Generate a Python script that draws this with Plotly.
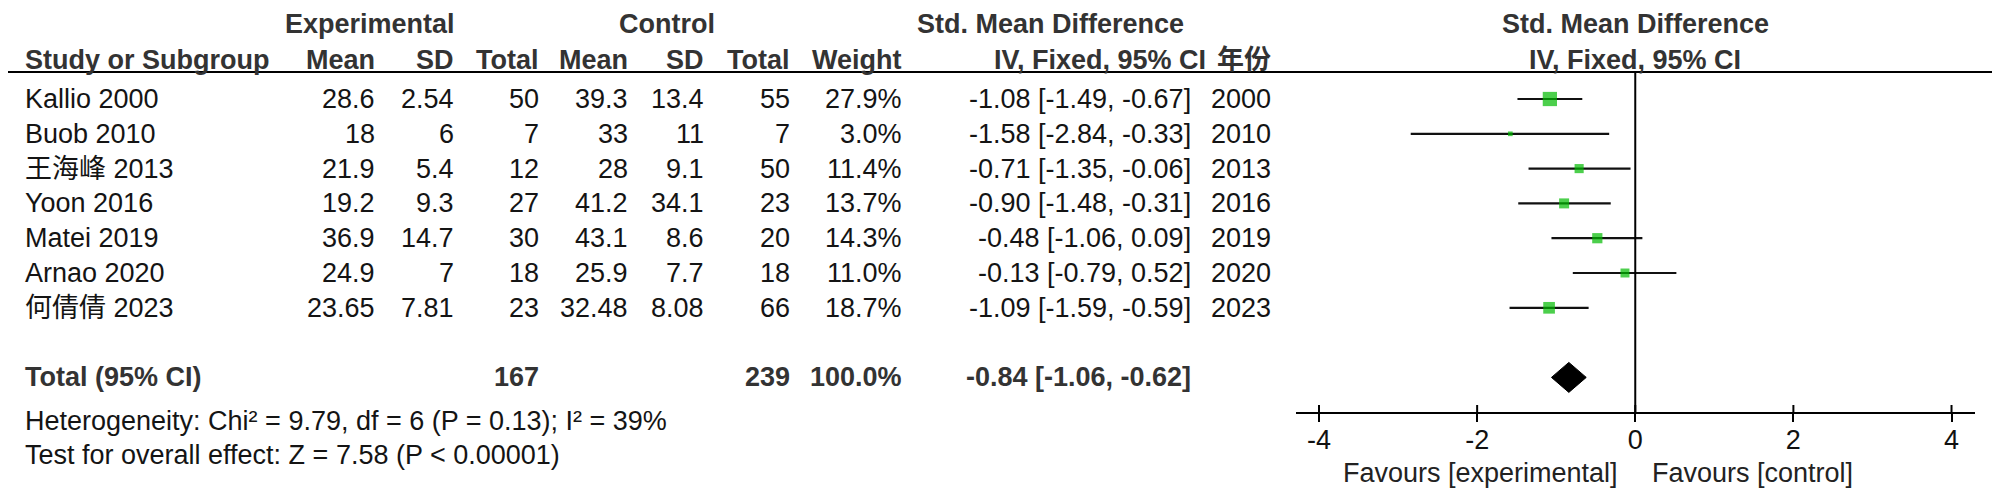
import plotly.graph_objects as go

# ---------------- data ----------------
studies = ["Kallio 2000", "Buob 2010", "王海峰 2013", "Yoon 2016", "Matei 2019", "Arnao 2020", "何倩倩 2023"]
exp_mean = ["28.6", "18", "21.9", "19.2", "36.9", "24.9", "23.65"]
exp_sd = ["2.54", "6", "5.4", "9.3", "14.7", "7", "7.81"]
exp_n = [50, 7, 12, 27, 30, 18, 23]
ctl_mean = ["39.3", "33", "28", "41.2", "43.1", "25.9", "32.48"]
ctl_sd = ["13.4", "11", "9.1", "34.1", "8.6", "7.7", "8.08"]
ctl_n = [55, 7, 50, 23, 20, 18, 66]
weights = [27.9, 3.0, 11.4, 13.7, 14.3, 11.0, 18.7]
smd = [-1.08, -1.58, -0.71, -0.90, -0.48, -0.13, -1.09]
ci_lo = [-1.49, -2.84, -1.35, -1.48, -1.06, -0.79, -1.59]
ci_hi = [-0.67, -0.33, -0.06, -0.31, 0.09, 0.52, -0.59]
years = [2000, 2010, 2013, 2016, 2019, 2020, 2023]

total_exp_n = 167
total_ctl_n = 239
total_weight = 100.0
total_smd = -0.84
total_lo = -1.06
total_hi = -0.62
heterogeneity = "Heterogeneity: Chi² = 9.79, df = 6 (P = 0.13); I² = 39%"
overall = "Test for overall effect: Z = 7.58 (P < 0.00001)"
tick_vals = [-4, -2, 0, 2, 4]
tick_text = ["-4", "-2", "0", "2", "4"]

# ---------------- layout helpers ----------------
PAGE_W, PAGE_H = 2000, 503
OFF = 8                           # default body margin of the page
W, H = PAGE_W - 2 * OFF, PAGE_H - 2 * OFF
ROW0, ROWH = 99.0, 34.8           # page-pixel centre of first row, row pitch


def py(p):                        # page pixel y -> row units
    return (p - ROW0) / ROWH


def pp(p):                        # page pixel y -> paper
    return (OFF + H - p) / H


def px(x):                        # page pixel x -> paper
    return (x - OFF) / W


FONT = "Liberation Sans, Arial, Noto Sans CJK SC, sans-serif"
FS = 27
TXT = "#141414"
HDR = "#333333"
AXIS_Y = 413

fig = go.Figure()

rows = list(range(len(studies)))
total_row = 8

# CI whiskers
wx, wy = [], []
for r, lo, hi in zip(rows, ci_lo, ci_hi):
    wx += [lo, hi, None]
    wy += [r, r, None]
fig.add_trace(go.Scatter(x=wx, y=wy, mode="lines", xaxis="x2", yaxis="y",
                         line=dict(color="#111111", width=2.2), hoverinfo="skip", showlegend=False))

# weight squares (area ~ weight)
sizes = [2.7 * (w ** 0.5) for w in weights]
fig.add_trace(go.Scatter(x=smd, y=rows, mode="markers", xaxis="x2", yaxis="y",
                         marker=dict(symbol="square", size=sizes, color="#00bb00",
                                     line=dict(width=0)),
                         showlegend=False))

# total diamond
dh = 15 / ROWH
fig.add_trace(go.Scatter(x=[total_lo, total_smd, total_hi, total_smd, total_lo],
                         y=[total_row, total_row - dh, total_row, total_row + dh, total_row],
                         mode="lines", fill="toself", fillcolor="black",
                         line=dict(color="black", width=1), xaxis="x2", yaxis="y",
                         showlegend=False))

ann = []


def txt(x, y, s, anchor="right", bold=False, color=TXT, xref="x", yref="y", xshift=0):
    ann.append(dict(x=x, y=y, xref=xref, yref=yref, text=(f"<b>{s}</b>" if bold else s),
                    showarrow=False, xanchor=anchor, yanchor="middle", xshift=xshift,
                    font=dict(family=FONT, size=FS, color=color)))


# header row 1
h1, h2 = py(24), py(60)
txt(370, h1, "Experimental", "center", True, HDR)
txt(667, h1, "Control", "center", True, HDR)
txt(1050, h1, "Std. Mean Difference", "center", True, HDR)
txt(0, h1, "Std. Mean Difference", "center", True, HDR, xref="x2")
# header row 2
txt(23, h2, "Study or Subgroup", "left", True, HDR)
cols = [377, 456, 541, 630, 706, 792, 904]
for x, s in zip(cols, ["Mean", "SD", "Total", "Mean", "SD", "Total", "Weight"]):
    txt(x, h2, s, "right", True, HDR)
txt(1208, h2, "IV, Fixed, 95% CI", "right", True, HDR)
txt(1273, h2, "年份", "right", True, HDR)
txt(0, h2, "IV, Fixed, 95% CI", "center", True, HDR, xref="x2")

# study rows
for r in rows:
    txt(23, r, studies[r], "left")
    vals = [exp_mean[r], exp_sd[r], str(exp_n[r]), ctl_mean[r], ctl_sd[r], str(ctl_n[r]),
            f"{weights[r]:.1f}%"]
    for x, s in zip(cols, vals):
        txt(x, r, s, "right")
    txt(1193, r, f"{smd[r]:.2f} [{ci_lo[r]:.2f}, {ci_hi[r]:.2f}]", "right")
    txt(1273, r, str(years[r]), "right")

# total row
txt(23, total_row, "Total (95% CI)", "left", True, HDR)
txt(cols[2], total_row, str(total_exp_n), "right", True, HDR)
txt(cols[5], total_row, str(total_ctl_n), "right", True, HDR)
txt(cols[6], total_row, f"{total_weight:.1f}%", "right", True, HDR)
txt(1193, total_row, f"{total_smd:.2f} [{total_lo:.2f}, {total_hi:.2f}]", "right", True, HDR)

txt(23, py(421), heterogeneity, "left")
txt(23, py(455), overall, "left")

# favours labels
txt(0, pp(473), "Favours [experimental]", "right", xref="x2", yref="paper", xshift=-15, color="#222222")
txt(0, pp(473), "Favours [control]", "left", xref="x2", yref="paper", xshift=15, color="#222222")

shapes = [
    # header underline
    dict(type="line", xref="paper", yref="paper", x0=0, x1=1, y0=pp(72), y1=pp(72),
         line=dict(color="black", width=2)),
    # zero line
    dict(type="line", xref="x2", yref="paper", x0=0, x1=0, y0=pp(AXIS_Y), y1=pp(72),
         line=dict(color="black", width=2)),
]
# upper halves of the crossing ticks
for t in tick_vals:
    shapes.append(dict(type="line", xref="x2", yref="paper", x0=t, x1=t,
                       y0=pp(AXIS_Y), y1=pp(AXIS_Y - 8), line=dict(color="black", width=2)))

fig.update_layout(
    width=W, height=H,
    margin=dict(l=0, r=0, t=0, b=0),
    paper_bgcolor="white", plot_bgcolor="white",
    showlegend=False,
    xaxis=dict(domain=[0, 1], range=[OFF, OFF + W], visible=False, fixedrange=True),
    yaxis=dict(domain=[0, 1], range=[py(OFF + H), py(OFF)], visible=False, fixedrange=True),
    xaxis2=dict(domain=[px(1296), px(1975)], range=[-4.291, 4.297], anchor="free",
                position=pp(AXIS_Y), showline=True, linecolor="black", linewidth=2,
                ticks="outside", ticklen=8, tickwidth=2, tickcolor="black",
                ticklabelstandoff=-5,
                tickvals=tick_vals, ticktext=tick_text, showgrid=False, zeroline=False,
                tickfont=dict(family=FONT, size=FS, color="#111111")),
    annotations=ann,
    shapes=shapes,
)

fig.write_html("out.html")
